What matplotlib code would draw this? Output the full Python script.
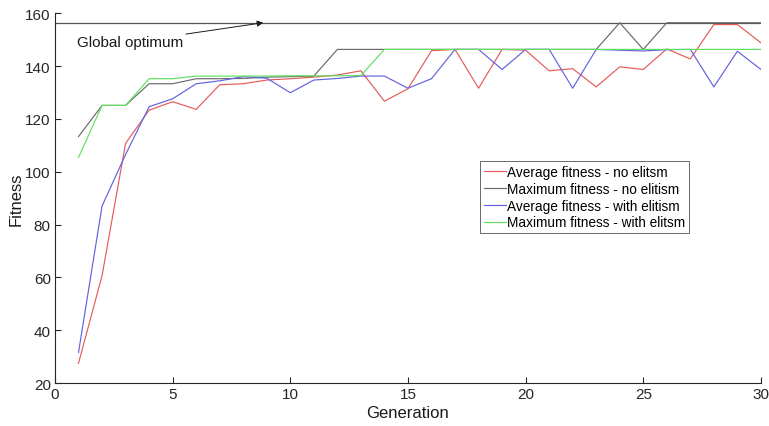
import matplotlib
matplotlib.use("Agg")
import matplotlib.pyplot as plt
import numpy as np

plt.rcParams['font.family'] = ['Liberation Sans', 'DejaVu Sans']

generations = list(range(1, 31))
avg_no_elitism = [27.5, 60.6, 110.7, 123.3, 126.5, 123.6, 132.9, 133.3, 134.7, 135.2,
                  135.8, 136.6, 138.2, 126.7, 131.4, 145.8, 146.3, 131.6, 146.3, 146.0,
                  138.2, 139.0, 132.1, 139.7, 138.7, 146.5, 142.7, 155.7, 155.7, 148.8]
max_no_elitism = [113.3, 125.1, 125.1, 133.3, 133.3, 135.2, 135.2, 135.3, 135.8, 136.0,
                  136.2, 146.3, 146.3, 146.3, 146.3, 146.3, 146.3, 146.3, 146.3, 146.3,
                  146.3, 146.3, 146.3, 156.4, 146.3, 156.4, 156.4, 156.4, 156.4, 156.4]
avg_with_elitism = [31.6, 87.0, 106.5, 124.6, 127.6, 133.3, 134.4, 136.0, 135.4, 129.9,
                    134.7, 135.3, 136.2, 136.2, 131.6, 135.2, 146.3, 146.3, 138.7, 146.3,
                    146.3, 131.6, 146.3, 146.0, 145.7, 146.2, 146.3, 132.1, 145.6, 138.7]
max_with_elitism = [105.4, 125.1, 125.1, 135.2, 135.2, 136.2, 136.2, 136.2, 136.2, 136.3,
                    136.3, 136.3, 136.4, 146.3, 146.3, 146.3, 146.3, 146.3, 146.3, 146.3,
                    146.3, 146.3, 146.3, 146.3, 146.3, 146.3, 146.3, 146.3, 146.3, 146.3]
global_optimum = 156.4
labels = ["Average fitness - no elitsm", "Maximum fitness - no elitism",
          "Average fitness - with elitism", "Maximum fitness - with elitsm"]
x_ticks = [0, 5, 10, 15, 20, 25, 30]
y_ticks = [20, 40, 60, 80, 100, 120, 140, 160]

fig = plt.figure(figsize=(7.69, 4.27), dpi=100)
ax = fig.add_axes([0.0715, 0.1007, 0.918, 0.866])

ax.plot([0, 30], [global_optimum, global_optimum], color='#555555', lw=0.9, zorder=1)
ax.plot(generations, avg_no_elitism, color='#e65a5a', lw=0.85, label=labels[0])
ax.plot(generations, max_no_elitism, color='#6a6a6a', lw=0.85, label=labels[1])
ax.plot(generations, avg_with_elitism, color='#6262e0', lw=0.85, label=labels[2])
ax.plot(generations, max_with_elitism, color='#5ee05e', lw=0.85, label=labels[3])

ax.annotate("Global optimum", xy=(8.85, global_optimum), xytext=(0.93, 149.0),
            fontsize=11, color='#1a1a1a', va='center', ha='left',
            arrowprops=dict(arrowstyle='-|>', color='#1a1a1a', lw=0.7,
                            mutation_scale=9, shrinkA=0, shrinkB=0))

ax.set_xlim(0, 30)
ax.set_ylim(20, 160)
ax.set_xticks(x_ticks)
ax.set_yticks(y_ticks)
ax.tick_params(direction='in', length=4, width=0.8, colors='#262626', labelsize=11,
               pad=3)
for s in ['top', 'right']:
    ax.spines[s].set_visible(False)
for s in ['left', 'bottom']:
    ax.spines[s].set_color('#262626')
    ax.spines[s].set_linewidth(0.8)
ax.set_xlabel("Generation", fontsize=12, color='#1a1a1a', labelpad=3)
ax.set_ylabel("Fitness", fontsize=12, color='#1a1a1a', labelpad=1)

leg = ax.legend(loc='upper left', bbox_to_anchor=(0.602, 0.6), fontsize=9.8,
                frameon=True, fancybox=False, handlelength=1.6, handletextpad=0.1,
                borderpad=0.3, labelspacing=0.2, borderaxespad=0)
leg.get_frame().set_edgecolor('#262626')
leg.get_frame().set_linewidth(0.6)

fig.savefig("out.png", dpi=100)
